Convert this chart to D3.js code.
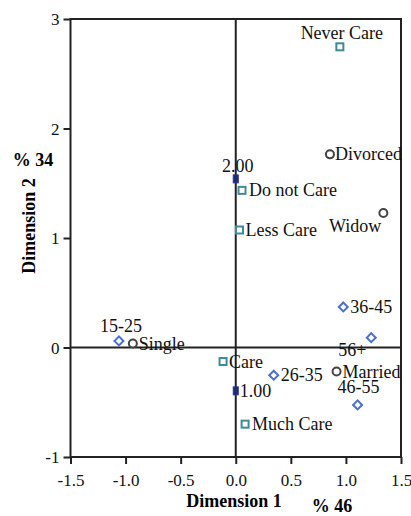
<!DOCTYPE html>
<html><head><meta charset="utf-8">
<script src="https://cdn.jsdelivr.net/npm/d3@7"></script>
<style>body{margin:0;background:#fff}svg{display:block}svg text{font-family:'Liberation Serif','Times New Roman',serif}</style>
</head><body>
<script>
// Data
const careLabels = ["Never Care","Do not Care","Less Care","Care","Much Care"];
const careX = [0.945, 0.057, 0.034, -0.115, 0.085];
const careY = [2.746, 1.435, 1.073, -0.128, -0.70];

const maritalLabels = ["Divorced","Widow","Single","Married"];
const maritalX = [0.855, 1.34, -0.934, 0.915];
const maritalY = [1.764, 1.228, 0.036, -0.219];

const ageLabels = ["15-25","26-35","36-45","46-55","56+"];
const ageX = [-1.06, 0.345, 0.976, 1.106, 1.23];
const ageY = [0.06, -0.253, 0.37, -0.524, 0.09];

const groupLabels = ["2.00","1.00"];
const groupX = [0, 0];
const groupY = [1.54, -0.396];

const xTicks = [-1.5,-1.0,-0.5,0.0,0.5,1.0,1.5];
const yTicks = [-1,0,1,2,3];

const W=411,H=516;
const svg=d3.select("body").append("svg").attr("width",W).attr("height",H);
const x=d3.scaleLinear().domain([-1.5,1.5]).range([70.5,401]);
const y=d3.scaleLinear().domain([-1,3]).range([457,19]);
const ink="#222";

// frame
svg.append("rect").attr("x",x(-1.5)).attr("y",y(3)).attr("width",x(1.5)-x(-1.5)).attr("height",y(-1)-y(3))
  .attr("fill","none").attr("stroke",ink).attr("stroke-width",2);
// zero lines
svg.append("line").attr("x1",x(0)).attr("x2",x(0)).attr("y1",y(3)).attr("y2",y(-1)).attr("stroke",ink).attr("stroke-width",2);
svg.append("line").attr("x1",x(-1.5)).attr("x2",x(1.5)).attr("y1",y(0)).attr("y2",y(0)).attr("stroke",ink).attr("stroke-width",2);

// axes
const fmtX=d=>d3.format(".1f")(d).replace("\u2212","-");
const xAx=svg.append("g").attr("transform",`translate(0,${y(-1)})`)
  .call(d3.axisBottom(x).tickValues(xTicks).tickFormat(fmtX).tickSize(7).tickSizeOuter(0));
const yAx=svg.append("g").attr("transform",`translate(${x(-1.5)},0)`)
  .call(d3.axisLeft(y).tickValues(yTicks).tickFormat(d=>String(d)).tickSize(7).tickSizeOuter(0));
[xAx,yAx].forEach(g=>{
  g.select(".domain").remove();
  g.selectAll("line").attr("stroke",ink).attr("stroke-width",2);
  g.selectAll("text").attr("fill","#111").style("font-family","'Liberation Serif',serif").style("font-size","17px");
});
xAx.selectAll("text").attr("dy","0").attr("y",29);
yAx.selectAll("text").attr("x",-11).attr("dy","0.35em");

// axis titles
svg.append("text").attr("x",234).attr("y",507).attr("text-anchor","middle").attr("font-weight","bold").attr("font-size",18).text("Dimension 1");
svg.append("text").attr("x",332).attr("y",512).attr("text-anchor","middle").attr("font-weight","bold").attr("font-size",18).text("% 46");
svg.append("text").attr("transform","translate(35,226) rotate(-90)").attr("text-anchor","middle").attr("font-weight","bold").attr("font-size",18).text("Dimension 2");
svg.append("text").attr("x",33).attr("y",166).attr("text-anchor","middle").attr("font-weight","bold").attr("font-size",18).text("% 34");

const fs=18;
function lab(px,py,t,anchor){svg.append("text").attr("x",px).attr("y",py).attr("text-anchor",anchor||"start").attr("font-size",fs).attr("fill","#111").text(t);}

// care: squares
const careCol="#3f8a99";
careLabels.forEach((l,i)=>{
  svg.append("rect").attr("x",x(careX[i])-3.5).attr("y",y(careY[i])-3.5).attr("width",7).attr("height",7)
    .attr("fill","#fff").attr("stroke",careCol).attr("stroke-width",2);
});
// marital: circles
maritalLabels.forEach((l,i)=>{
  svg.append("circle").attr("cx",x(maritalX[i])).attr("cy",y(maritalY[i])).attr("r",4)
    .attr("fill","#fff").attr("stroke","#444").attr("stroke-width",2);
});
// age: diamonds
ageLabels.forEach((l,i)=>{
  svg.append("path").attr("class","dia").attr("d",d3.symbol(d3.symbolSquare,40)())
    .attr("transform",`translate(${x(ageX[i])},${y(ageY[i])}) rotate(45)`)
    .attr("fill","#fff").attr("stroke","#4a6fd0").attr("stroke-width",2);
});
// groups: filled navy rects
groupLabels.forEach((l,i)=>{
  svg.append("rect").attr("x",x(groupX[i])-2.5).attr("y",y(groupY[i])-4).attr("width",5).attr("height",8)
    .attr("fill","#1f2a7a").attr("stroke","#2c3590").attr("stroke-width",1);
});

// labels (offsets relative to marker positions)
const P=(xs,ys,i)=>[x(xs[i]),y(ys[i])];
let p;
p=P(careX,careY,0); lab(p[0]+2,p[1]-8,"Never Care","middle");
p=P(careX,careY,1); lab(p[0]+7,p[1]+6,"Do not Care");
p=P(careX,careY,2); lab(p[0]+6,p[1]+6,"Less Care");
p=P(careX,careY,3); lab(p[0]+6,p[1]+6,"Care");
p=P(careX,careY,4); lab(p[0]+7,p[1]+6,"Much Care");
p=P(maritalX,maritalY,0); lab(p[0]+5,p[1]+6,"Divorced");
p=P(maritalX,maritalY,1); lab(p[0]-2,p[1]+19,"Widow","end");
p=P(maritalX,maritalY,2); lab(p[0]+6,p[1]+6,"Single");
p=P(maritalX,maritalY,3); lab(p[0]+6,p[1]+7,"Married");
p=P(ageX,ageY,0); lab(p[0]+2,p[1]-9,"15-25","middle");
p=P(ageX,ageY,1); lab(p[0]+7,p[1]+6,"26-35");
p=P(ageX,ageY,2); lab(p[0]+7,p[1]+6,"36-45");
p=P(ageX,ageY,3); lab(p[0]+1,p[1]-12,"46-55","middle");
p=P(ageX,ageY,4); lab(p[0]-19,p[1]+18,"56+","middle");
p=P(groupX,groupY,0); lab(p[0]+2,p[1]-7,"2.00","middle");
p=P(groupX,groupY,1); lab(p[0]+4,p[1]+6,"1.00");
</script>
</body></html>
